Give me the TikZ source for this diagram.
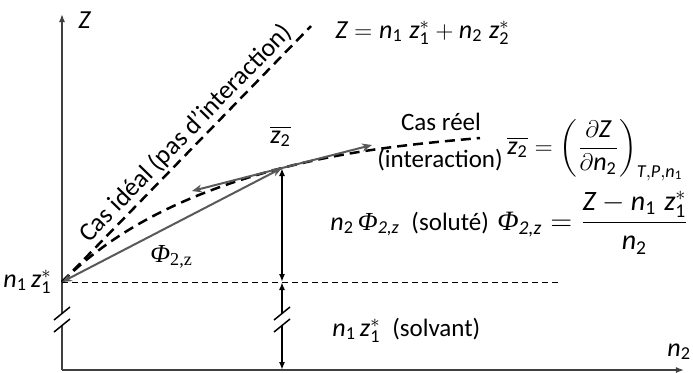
\documentclass[tikz,border=0pt]{standalone}
\usepackage{amsmath}
\usepackage{fontspec}
\setmainfont{Carlito}
\newfontfamily\serifphi{Liberation Serif}
\definecolor{grisAxe}{HTML}{404040}
\definecolor{grisFleche}{HTML}{595959}
\usetikzlibrary{
	arrows.meta,
	positioning,
	calc
}
\newcommand{\vn}[1]{\textit{n}_{\text{#1}}}
\newcommand{\vzs}[1]{\textit{z}^{*}_{\text{#1}}}
\newcommand{\Phiz}{\text{\serifphi\itshape Φ}_{\textit{2,z}}}
\newcommand{\mots}[1]{{\fontsize{12.5}{15}\selectfont #1}}
\tikzset{
	axe/.style={
		-{Latex[length=4pt,width=3pt]},
		line width=0.75pt,
		grisAxe
	},
	droiteIdeale/.style={
		line width=1.25pt,
		dash pattern=on 5pt off 3pt
	},
	courbeReelle/.style={
		line width=1.25pt,
		dash pattern=on 5pt off 3pt
	},
	niveau/.style={
		line width=0.5pt,
		dash pattern=on 3pt off 2pt
	},
	flecheGrise/.style={
		{Stealth[length=5pt,width=4pt]}-{Stealth[length=5pt,width=4pt]},
		line width=1pt,
		grisFleche
	},
	cote/.style={
		{Latex[length=4pt,width=3pt]}-{Latex[length=4pt,width=3pt]},
		line width=1pt
	},
	coupure/.style={
		line width=0.75pt
	},
	etiquette/.style={
		inner sep=0pt,
		font=\fontsize{13}{15}\selectfont
	},
	formule/.style={
		inner sep=0pt,
		font=\fontsize{14}{17}\selectfont
	}
}
\begin{document}
\begin{tikzpicture}[x=0.5pt, y=-0.5pt]
		\useasboundingbox (0,0) rectangle (693,372);
		% points
		\coordinate (O) at (62,370);
		\coordinate (A) at (62,282);
		\coordinate (P) at (282,168);
		\coordinate (Q) at (282,282);
		\coordinate (R) at (282,370);
		\coordinate (finY) at (62,14);
		\coordinate (finX) at (684,370);
		\coordinate (finNiveau) at (558,282);
		\coordinate (finIdeal) at (311,26);
		\coordinate (finReel) at (480,138);
		\coordinate (tanG) at (192,191);
		\coordinate (tanD) at (372,145);
		% axes
		\draw[axe] (O) -- (finY);
		\draw[axe] (O) -- (finX);
		\draw[niveau] (A) -- (finNiveau);
		% cas ideal et cas reel
		\draw[droiteIdeale] (A) -- node[etiquette, sloped, above, pos=0.54, inner sep=1pt] (texteIdeal) {Cas idéal (pas d’interaction)} (finIdeal);
		\draw[courbeReelle] (A) .. controls (112,232) and (182,194) .. (P)
			.. controls (352,150) and (412,144) .. (finReel);
		% tangente et corde
		\draw[flecheGrise] (tanG) -- (tanD);
		\draw[flecheGrise] (A) -- (P);
		% cotes
		\draw[cote] (P) -- (Q);
		\draw[cote] (Q) -- (R);
		% coupures
		\foreach \bx in {62,282} {
			\fill[white] (\bx-8,320) -- (\bx+8,307) -- (\bx+8,319) -- (\bx-8,332) -- cycle;
			\draw[coupure] (\bx-8,320) -- (\bx+8,307);
			\draw[coupure] (\bx-8,332) -- (\bx+8,319);
		}
		% textes
		\node[etiquette, anchor=base west] (labelZ) at (78,28) {\textit{Z}};
		\node[etiquette, anchor=base west] (labelN) at (667,356) {$\vn{2}$};
		\node[etiquette, anchor=base east] (labelA) at (52,287) {$\vn{1}\,\vzs{1}$};
		\node[etiquette, anchor=base west] (labelPhi) at (150,262) {{\serifphi\itshape Φ}$_{\text{\serifphi 2,z}}$};
		\node[etiquette, anchor=base west] (labelP) at (270,143) {$\overline{\textit{z}_{\text{2}}}$};
		\node[etiquette, anchor=base west] (eqIdeal) at (335,38) {$\textit{Z} = \vn{1}\;\vzs{1} + \vn{2}\;\vzs{2}$};
		\node[etiquette, anchor=base] (casReel) at (441,130) {\mots{Cas réel}};
		\node[etiquette, anchor=base] (interaction) at (440,167) {\mots{(interaction)}};
		\node[formule, font=\fontsize{13}{16}\selectfont, anchor=base west] (eqMolaire) at (507,154) {$\overline{\textit{z}_{\text{2}}} = \left(\dfrac{\partial \textit{Z}}{\partial \vn{2}}\right)_{\textit{T},\textit{P},\vn{1}}$};
		\node[etiquette, anchor=base west] (solute) at (330,230) {$\vn{2}\,\Phiz$~~\mots{(soluté)}};
		\node[formule, anchor=base west] (eqPhi) at (497,230) {$\Phiz = \dfrac{\textit{Z} - \vn{1}\;\vzs{1}}{\vn{2}}$};
		\node[etiquette, anchor=base west] (solvant) at (332,336) {$\vn{1}\,\vzs{1}$~~\mots{(solvant)}};
	\end{tikzpicture}
\end{document}
